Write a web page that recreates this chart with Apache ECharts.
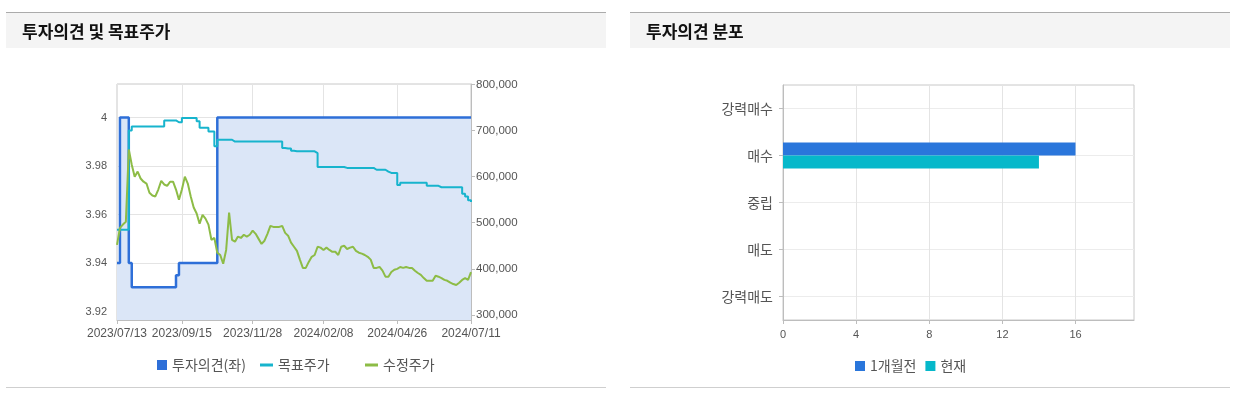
<!DOCTYPE html>
<html>
<head>
<meta charset="utf-8">
<script src="https://cdn.jsdelivr.net/npm/echarts@6/dist/echarts.min.js"></script>
<style>
  html, body { margin: 0; padding: 0; background: #fff; }
  #chart { width: 1239px; height: 397px; }
</style>
</head>
<body>
<div id="chart"></div>
<script>
// 투자의견 및 목표주가 (left panel)
const DATES = [
  '2023/07/13', '2023/07/17', '2023/07/19', '2023/07/21', '2023/07/25', '2023/07/27', '2023/07/31', '2023/08/02',
  '2023/08/04', '2023/08/08', '2023/08/10', '2023/08/14', '2023/08/17', '2023/08/21', '2023/08/23', '2023/08/25',
  '2023/08/29', '2023/08/31', '2023/09/04', '2023/09/06', '2023/09/08', '2023/09/12', '2023/09/15', '2023/09/19',
  '2023/09/21', '2023/09/25', '2023/10/04', '2023/10/06', '2023/10/10', '2023/10/12', '2023/10/16', '2023/10/18',
  '2023/10/20', '2023/10/24', '2023/10/26', '2023/10/30', '2023/11/01', '2023/11/03', '2023/11/07', '2023/11/09',
  '2023/11/13', '2023/11/15', '2023/11/17', '2023/11/20', '2023/11/22', '2023/11/24', '2023/11/28', '2023/11/30',
  '2023/12/04', '2023/12/06', '2023/12/08', '2023/12/12', '2023/12/14', '2023/12/18', '2023/12/20', '2023/12/22',
  '2023/12/27', '2023/12/28', '2024/01/03', '2024/01/05', '2024/01/09', '2024/01/11', '2024/01/15', '2024/01/17',
  '2024/01/19', '2024/01/23', '2024/01/25', '2024/01/29', '2024/01/31', '2024/02/05', '2024/02/08', '2024/02/14',
  '2024/02/16', '2024/02/20', '2024/02/22', '2024/02/26', '2024/02/28', '2024/03/04', '2024/03/06', '2024/03/08',
  '2024/03/12', '2024/03/14', '2024/03/18', '2024/03/20', '2024/03/22', '2024/03/26', '2024/03/28', '2024/04/01',
  '2024/04/03', '2024/04/05', '2024/04/09', '2024/04/12', '2024/04/16', '2024/04/18', '2024/04/22', '2024/04/26',
  '2024/04/30', '2024/05/03', '2024/05/08', '2024/05/10', '2024/05/14', '2024/05/17', '2024/05/21', '2024/05/23',
  '2024/05/27', '2024/05/29', '2024/05/31', '2024/06/04', '2024/06/07', '2024/06/11', '2024/06/13', '2024/06/17',
  '2024/06/19', '2024/06/21', '2024/06/25', '2024/06/27', '2024/07/01', '2024/07/03', '2024/07/05', '2024/07/09',
  '2024/07/11'
]
const LABEL_IDX = [0, 22, 46, 70, 95, 120]

const OPINION = [
  3.94, 4, 4, 4, 3.94,
  3.93, 3.93, 3.93, 3.93, 3.93, 3.93, 3.93, 3.93, 3.93, 3.93, 3.93, 3.93, 3.93, 3.93, 3.93,
  3.935,
  3.94, 3.94, 3.94, 3.94, 3.94, 3.94, 3.94, 3.94, 3.94, 3.94, 3.94, 3.94, 3.94,
  4, 4, 4, 4, 4, 4, 4, 4, 4, 4, 4, 4, 4, 4, 4, 4, 4, 4, 4, 4,
  4, 4, 4, 4, 4, 4, 4, 4, 4, 4, 4, 4, 4, 4, 4, 4, 4, 4, 4, 4,
  4, 4, 4, 4, 4, 4, 4, 4, 4, 4, 4, 4, 4, 4, 4, 4, 4, 4, 4, 4,
  4, 4, 4, 4, 4, 4, 4, 4, 4, 4, 4, 4, 4, 4, 4, 4, 4, 4, 4, 4,
  4, 4, 4, 4, 4, 4, 4
]

const TARGET = [
  485000, 485000, 485000, 485000, 700000,
  709000, 709000, 709000, 709000, 709000, 709000, 709000, 709000, 709000, 709000, 709000,
  722000, 722000, 722000, 722000, 718000, 718000,
  727000, 727000, 727000, 727000, 727000, 720000, 706000, 706000, 706000, 698000, 698000, 666000,
  680000, 680000, 680000, 680000, 680000,
  676000, 676000, 676000, 676000, 676000, 676000, 676000, 676000, 676000, 676000, 676000, 676000,
  676000, 676000, 676000, 676000, 676000,
  662000, 661000, 661000, 656000, 655000, 655000, 655000, 655000, 655000, 655000, 655000, 651000,
  621000, 621000, 621000, 621000, 621000, 621000, 621000, 621000, 621000,
  619000, 619000, 619000, 619000, 619000, 619000, 619000, 619000, 619000, 619000,
  615000, 615000, 615000, 615000, 611000, 608000, 608000, 608000, 582000,
  587000, 587000, 587000, 587000, 587000, 587000, 587000, 587000, 587000,
  580000, 580000, 580000, 580000,
  577000, 577000, 577000, 577000, 577000, 577000, 577000, 577000,
  563000, 557000, 549000, 545000
]

const PRICE = [
  452000, 489000, 496000, 502000, 659000, 626000, 600000, 611000, 596000, 589000,
  585000, 565000, 559000, 557000, 572000, 591000, 583000, 580000, 589000, 589000,
  572000, 550000, 572000, 600000, 585000, 557000, 533000, 520000, 498000, 517000,
  509000, 496000, 463000, 467000, 435000, 430000, 411000, 441000, 522000, 463000,
  459000, 470000, 467000, 474000, 470000, 474000, 483000, 476000, 465000, 454000,
  461000, 476000, 493000, 491000, 491000, 491000, 493000, 478000, 472000, 457000,
  448000, 439000, 420000, 402000, 402000, 415000, 426000, 430000, 448000, 446000,
  441000, 446000, 441000, 437000, 437000, 430000, 448000, 450000, 443000, 446000,
  448000, 439000, 435000, 433000, 430000, 426000, 420000, 402000, 402000, 404000,
  396000, 383000, 383000, 393000, 398000, 400000, 404000, 402000, 404000, 402000,
  402000, 396000, 391000, 387000, 380000, 374000, 374000, 374000, 385000, 383000,
  380000, 376000, 374000, 370000, 367000, 365000, 370000, 376000, 380000, 376000,
  393000
]

const OPINION_TICKS = [3.92, 3.94, 3.96, 3.98, 4]
const PRICE_TICKS = [300000, 400000, 500000, 600000, 700000, 800000]

// 투자의견 분포 (right panel)
const GRADES = ['강력매수', '매수', '중립', '매도', '강력매도']
const MONTH_AGO = [0, 16, 0, 0, 0]
const NOW = [0, 14, 0, 0, 0]
const COUNT_TICKS = [0, 4, 8, 12, 16]

const FONT = "'Liberation Sans', Arial, 'Noto Sans CJK KR', sans-serif"
const KFONT = "'Noto Sans CJK KR', sans-serif"
const AXIS_GRAY = '#bdbdbd'
const GRID_GRAY = '#e4e4e4'
const LABEL_GRAY = '#555'

const isLabelIdx = (i) => LABEL_IDX.indexOf(i) !== -1

// panel frame: top rule, header band, title, bottom rule
const panel = (x, title) => [
  { type: 'rect', silent: true, shape: { x, y: 13, width: 600, height: 35 }, style: { fill: '#f4f4f4' } },
  { type: 'line', silent: true, shape: { x1: x, y1: 12.5, x2: x + 600, y2: 12.5 }, style: { stroke: '#ababab', lineWidth: 1 } },
  { type: 'line', silent: true, shape: { x1: x, y1: 387.5, x2: x + 600, y2: 387.5 }, style: { stroke: '#cfcfcf', lineWidth: 1 } },
  {
    type: 'text', silent: true, x: x + 16, y: 32,
    style: { text: title, fontFamily: KFONT, fontSize: 17, fontWeight: 'bold', fill: '#111', verticalAlign: 'middle' },
  },
]

const chart = echarts.init(document.getElementById('chart'), null, { renderer: 'canvas' })

const legendText = { color: LABEL_GRAY, fontSize: 14, fontFamily: KFONT }

const option = {
  animation: false,
  textStyle: { fontFamily: FONT },
  graphic: [...panel(6, '투자의견 및 목표주가'), ...panel(630, '투자의견 분포')],
  legend: [
    {
      data: [{ name: '투자의견(좌)', icon: 'rect' }], left: 152, top: 353,
      itemWidth: 10, itemHeight: 10, textStyle: legendText, selectedMode: false,
    },
    {
      data: [{ name: '목표주가', icon: 'rect' }], left: 255, top: 353,
      itemWidth: 13, itemHeight: 3, textStyle: legendText, selectedMode: false,
    },
    {
      data: [{ name: '수정주가', icon: 'rect' }], left: 360, top: 353,
      itemWidth: 13, itemHeight: 3, textStyle: legendText, selectedMode: false,
    },
    {
      data: [{ name: '1개월전', icon: 'rect' }, { name: '현재', icon: 'rect' }], left: 850, top: 354,
      itemWidth: 10, itemHeight: 10, itemGap: 9, textStyle: legendText, selectedMode: false,
    },
  ],
  grid: [
    { left: 117, top: 84, width: 354, height: 236, show: true, borderColor: '#c8c8c8', borderWidth: 1, backgroundColor: '#fff' },
    { left: 783, top: 85, width: 351, height: 235, show: true, borderColor: '#c8c8c8', borderWidth: 1, backgroundColor: '#fff' },
  ],
  xAxis: [
    {
      type: 'category', gridIndex: 0, data: DATES, boundaryGap: false,
      axisLine: { lineStyle: { color: AXIS_GRAY } },
      axisTick: { interval: isLabelIdx, length: 4, lineStyle: { color: AXIS_GRAY } },
      axisLabel: { interval: isLabelIdx, color: LABEL_GRAY, fontSize: 12, margin: 8 },
      splitLine: { show: true, interval: isLabelIdx, lineStyle: { color: GRID_GRAY } },
    },
    {
      type: 'value', gridIndex: 1, min: 0, max: 19.2,
      axisLine: { show: true, lineStyle: { color: AXIS_GRAY } },
      axisTick: { show: true, customValues: COUNT_TICKS, length: 4, lineStyle: { color: AXIS_GRAY } },
      axisLabel: { customValues: COUNT_TICKS, color: LABEL_GRAY, fontSize: 11, margin: 9 },
      splitLine: { show: true, lineStyle: { color: GRID_GRAY } },
    },
  ],
  yAxis: [
    {
      type: 'value', gridIndex: 0, position: 'left', min: 3.9165, max: 4.0138,
      axisLine: { show: false },
      axisTick: { show: false, customValues: OPINION_TICKS },
      axisLabel: { customValues: OPINION_TICKS, color: LABEL_GRAY, fontSize: 11, margin: 10 },
      splitLine: { show: true, lineStyle: { color: GRID_GRAY } },
    },
    {
      type: 'value', gridIndex: 0, position: 'right', min: 289000, max: 801000,
      axisLine: { show: true, lineStyle: { color: AXIS_GRAY } },
      axisTick: { show: true, customValues: PRICE_TICKS, length: 4, lineStyle: { color: AXIS_GRAY } },
      axisLabel: {
        customValues: PRICE_TICKS, color: LABEL_GRAY, fontSize: 11.5, margin: 5,
        formatter: (v) => v.toLocaleString('en-US'),
      },
      splitLine: { show: false },
    },
    {
      type: 'category', gridIndex: 1, data: GRADES, inverse: true,
      axisLine: { show: true, lineStyle: { color: AXIS_GRAY } },
      axisTick: { show: true, alignWithLabel: true, length: 4, lineStyle: { color: AXIS_GRAY } },
      axisLabel: { color: LABEL_GRAY, fontSize: 14, margin: 10, fontFamily: KFONT },
      splitLine: { show: true, alignWithLabel: true, lineStyle: { color: '#ececec' } },
    },
  ],
  series: [
    {
      name: '투자의견(좌)', type: 'line', xAxisIndex: 0, yAxisIndex: 0,
      data: OPINION, step: 'end', symbol: 'none',
      lineStyle: { color: '#2e6fd8', width: 2.5 },
      itemStyle: { color: '#2e6fd8' },
      areaStyle: { color: '#dbe6f7', opacity: 1, origin: 'start' },
    },
    {
      name: '목표주가', type: 'line', xAxisIndex: 0, yAxisIndex: 1,
      data: TARGET, step: 'end', symbol: 'none',
      lineStyle: { color: '#17b4cd', width: 2 },
      itemStyle: { color: '#17b4cd' },
    },
    {
      name: '수정주가', type: 'line', xAxisIndex: 0, yAxisIndex: 1,
      data: PRICE, symbol: 'none',
      lineStyle: { color: '#8dbc46', width: 2 },
      itemStyle: { color: '#8dbc46' },
    },
    {
      name: '1개월전', type: 'bar', xAxisIndex: 1, yAxisIndex: 2,
      data: MONTH_AGO, barWidth: 13, barGap: '0%',
      itemStyle: { color: '#2a76db' },
    },
    {
      name: '현재', type: 'bar', xAxisIndex: 1, yAxisIndex: 2,
      data: NOW, barWidth: 13, barGap: '0%',
      itemStyle: { color: '#06b8ca' },
    },
  ],
}

chart.setOption(option)
</script>
</body>
</html>
